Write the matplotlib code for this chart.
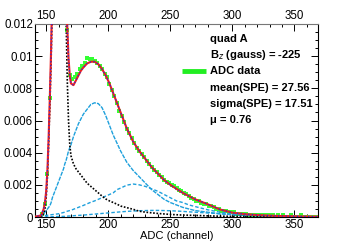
import matplotlib
matplotlib.use("Agg")
import matplotlib.pyplot as plt
import numpy as np
from matplotlib.ticker import MultipleLocator, FuncFormatter

plt.rcParams["font.family"] = ["Liberation Sans", "DejaVu Sans"]

# ---------------------------------------------------------------------------
# Data
# ---------------------------------------------------------------------------

# measured spectrum, odd ADC channels 147..369
adc_x = np.arange(147, 370, 2)
adc_y = [
    0.0002, 0.0008, 0.0027, 0.0074, 0.0150, 0.0240, 0.0330, 0.0360, 0.0290, 0.0200,
    0.0116, 0.0088, 0.0086, 0.0087, 0.0089, 0.0092, 0.0094, 0.0096, 0.0099, 0.0098,
    0.0098, 0.0097, 0.0096, 0.0094, 0.0092, 0.0089, 0.0087, 0.0083, 0.0079, 0.0075,
    0.0071, 0.0066, 0.0063, 0.0059, 0.0055, 0.0052, 0.0049, 0.0046, 0.0043, 0.0041,
    0.0039, 0.0037, 0.0035, 0.0033, 0.0031, 0.0029, 0.0028, 0.0026, 0.0025, 0.0023,
    0.0022, 0.0021, 0.0020, 0.0019, 0.0018, 0.0017, 0.0016, 0.0015, 0.0014, 0.0013,
    0.0012, 0.0011, 0.0010, 0.0010, 0.0009, 0.0008, 0.0008, 0.0007, 0.0007, 0.0006,
    0.0005, 0.0005, 0.0004, 0.0004, 0.0004, 0.0003, 0.0003, 0.0003, 0.0002, 0.0002,
    0.0002, 0.0002, 0.0002, 0.0001, 0.0001, 0.0001, 0.0001, 0.0001, 0.0001, 0.0001,
    0.0001, 0.0001, 0.0001, 0.0001, 0.0000, 0.0001, 0.0000, 0.0001, 0.0000, 0.0000,
    0.0001, 0.0000, 0.0000, 0.0000, 0.0001, 0.0000, 0.0000, 0.0000, 0.0000, 0.0000,
    0.0000, 0.0000,
]

# fit curves sampled at these ADC values
fit_x = [140, 146, 148, 149, 150, 151, 152, 153, 154, 155, 156, 160, 164, 165, 166,
         167, 168, 169, 170, 172, 174, 176, 178, 180, 183, 186, 189, 192, 195, 198,
         201, 204, 207, 210, 215, 220, 225, 230, 235, 240, 245, 250, 255, 260, 265,
         270, 280, 290, 300, 310, 320, 335, 350, 370]

fit_total = [0, 0.0001, 0.0005, 0.0009, 0.0016, 0.0029, 0.0050, 0.0076, 0.0105, 0.0145,
             0.019, 0.037, 0.023, 0.0197, 0.0157, 0.0119, 0.0099, 0.0088, 0.0083, 0.0082,
             0.0085, 0.0088, 0.0091, 0.0093, 0.00955, 0.00965, 0.00966, 0.0095, 0.0092, 0.0088,
             0.0083, 0.0077, 0.0071, 0.0065, 0.0055, 0.0047, 0.0041, 0.0036, 0.0031, 0.0027,
             0.0023, 0.0020, 0.00175, 0.0015, 0.0013, 0.0011, 0.0008, 0.00047, 0.00027, 0.00018,
             0.00012, 0.00007, 0.00004, 0.00002]

fit_pedestal = [0, 0, 0.0002, 0.0005, 0.0012, 0.0025, 0.0045, 0.0070, 0.0098, 0.0135,
                0.018, 0.035, 0.020, 0.0165, 0.0125, 0.0085, 0.0060, 0.0045, 0.0038, 0.0033,
                0.0030, 0.0028, 0.0026, 0.0024, 0.0021, 0.0019, 0.0017, 0.0015, 0.0013, 0.00112,
                0.0010, 0.0009, 0.0008, 0.00068, 0.00058, 0.00048, 0.00036, 0.0003, 0.00026, 0.00022,
                0.00019, 0.00016, 0.00014, 0.00012, 0.00011, 0.0001, 0.00007, 0.00005, 0.00004, 0.00003,
                0.00002, 0.00002, 0.00001, 0.00001]

fit_1pe = [0, 0.0001, 0.0002, 0.0003, 0.0004, 0.0005, 0.0006, 0.0007, 0.0009, 0.0012,
           0.0014, 0.0022, 0.0030, 0.0033, 0.0035, 0.0038, 0.0041, 0.0043, 0.0045, 0.0050,
           0.0054, 0.0058, 0.0061, 0.0064, 0.0067, 0.0070, 0.0071, 0.00705, 0.0068, 0.0063,
           0.0057, 0.0051, 0.0046, 0.0041, 0.0034, 0.0029, 0.0025, 0.0021, 0.0017, 0.0014,
           0.0011, 0.0009, 0.00075, 0.0006, 0.0005, 0.0004, 0.0003, 0.0002, 0.00015, 0.0001,
           0.00008, 0.00005, 0.00003, 0.00001]

fit_2pe = [0.00003, 0.00006, 0.00008, 0.00009, 0.0001, 0.00011, 0.00012, 0.00013, 0.00014, 0.00015,
           0.00016, 0.0002, 0.00028, 0.0003, 0.00033, 0.00036, 0.00038, 0.0004, 0.00042, 0.00048,
           0.00054, 0.0006, 0.00066, 0.00072, 0.00082, 0.00092, 0.001, 0.0011, 0.0012, 0.0013,
           0.0014, 0.0015, 0.0017, 0.0018, 0.00198, 0.00205, 0.0020, 0.0019, 0.00175, 0.0016,
           0.0014, 0.0012, 0.001, 0.0009, 0.00075, 0.00065, 0.00045, 0.0003, 0.0002, 0.00014,
           0.0001, 0.00006, 0.00003, 0.00001]

fit_3pe = [0, 0, 0, 0, 0.00001, 0.00001, 0.00001, 0.00001, 0.00001, 0.00002,
           0.00002, 0.00003, 0.00004, 0.00004, 0.00005, 0.00005, 0.00006, 0.00006, 0.00007, 0.00008,
           0.00009, 0.0001, 0.00011, 0.00012, 0.00014, 0.00016, 0.00018, 0.0002, 0.00022, 0.00024,
           0.00026, 0.00028, 0.0003, 0.00032, 0.00035, 0.00037, 0.00039, 0.0004, 0.00041, 0.00041,
           0.0004, 0.00039, 0.00037, 0.00035, 0.00032, 0.0003, 0.00025, 0.0002, 0.00015, 0.00011,
           0.00008, 0.00005, 0.00003, 0.00001]

legend_lines = ["quad A", "B$_{z}$ (gauss) = -225", "ADC data",
                "mean(SPE) = 27.56", "sigma(SPE) = 17.51", "\u03bc = 0.76"]

# ---------------------------------------------------------------------------
# Figure
# ---------------------------------------------------------------------------

fig = plt.figure(figsize=(3.54, 2.41), dpi=100)
ax = fig.add_axes([35 / 354, 24 / 241, 283 / 354, 193 / 241])

cyan = "#1ea0dc"
ax.plot(adc_x, adc_y, ls="none", marker="s", ms=3.4, mew=0, color="#33ff33", zorder=2)
ax.plot(fit_x, fit_3pe, color=cyan, lw=1.0, ls=(0, (2.5, 1.5)), zorder=3)
ax.plot(fit_x, fit_2pe, color=cyan, lw=1.0, ls=(0, (2.5, 1.5)), zorder=3)
ax.plot(fit_x, fit_1pe, color=cyan, lw=1.0, ls=(0, (3, 0.8)), zorder=3)
ax.plot(fit_x, fit_pedestal, color="black", lw=1.2, ls=(0, (1, 1)), zorder=4)
ax.plot(fit_x, fit_total, color="#ee2020", lw=1.5, zorder=5)
ax.plot(fit_x, fit_total, color="#2030e0", lw=0.9, ls=(0, (1, 2)), zorder=6)

ax.set_xlim(141, 369)
ax.set_ylim(0, 0.012)

ax.xaxis.set_major_locator(MultipleLocator(50))
ax.xaxis.set_minor_locator(MultipleLocator(10))
ax.yaxis.set_major_locator(MultipleLocator(0.002))
ax.yaxis.set_minor_locator(MultipleLocator(0.0005))
ax.yaxis.set_major_formatter(FuncFormatter(lambda v, p: "0" if abs(v) < 1e-9 else f"{v:g}"))

ax.tick_params(which="both", direction="in", top=True, right=True,
               labeltop=True, labelbottom=True, labelsize=8.3, pad=1.5)
ax.tick_params(which="major", length=5, width=0.7)
ax.tick_params(which="minor", length=2.5, width=0.7)
for side in ax.spines.values():
    side.set_linewidth(0.8)
ax.spines["top"].set_color("#777777")

ax.set_xlabel("ADC (channel)", fontsize=8, labelpad=0)

tx = 0.618
ys = [0.922, 0.839, 0.756, 0.668, 0.585, 0.503]
for label, yy in zip(legend_lines, ys):
    ax.text(tx, yy, label, transform=ax.transAxes, fontsize=8, fontweight="bold",
            va="center", ha="left")
ax.plot([0.519, 0.604], [ys[2], ys[2]], transform=ax.transAxes, color="#22ee22",
        lw=3.5, solid_capstyle="butt", clip_on=False)

fig.savefig("out.png", dpi=100, facecolor="white")
